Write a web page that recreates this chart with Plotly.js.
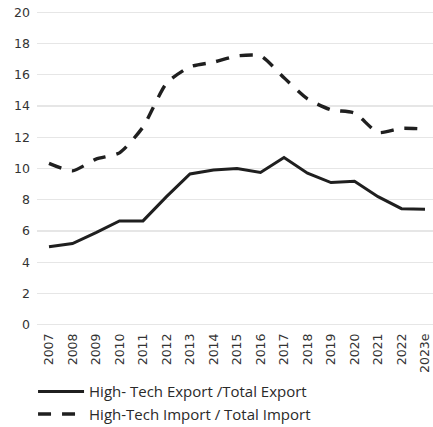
<!DOCTYPE html>
<html>
<head>
<meta charset="utf-8">
<script src="https://cdn.plot.ly/plotly-3.0.1.min.js"></script>
<style>html,body{margin:0;padding:0;background:#fff;}#chart{width:433px;height:427px;}</style>
</head>
<body>
<div id="chart"></div>
<script>
const years = ["2007","2008","2009","2010","2011","2012","2013","2014","2015","2016","2017","2018","2019","2020","2021","2022","2023e"];
const exportShare = [5.0, 5.2, 5.9, 6.65, 6.65, 8.2, 9.65, 9.9, 10.0, 9.75, 10.7, 9.7, 9.1, 9.18, 8.2, 7.43, 7.4];
const importShare = [10.33, 9.85, 10.6, 11.0, 12.65, 15.45, 16.5, 16.8, 17.2, 17.2, 15.8, 14.45, 13.75, 13.55, 12.3, 12.57, 12.52];
const yTicks = [0, 2, 4, 6, 8, 10, 12, 14, 16, 18, 20];
const seriesNames = ["High- Tech Export /Total Export", "High-Tech Import / Total Import"];

const traces = [
  {x: years, y: exportShare, type: 'scatter', mode: 'lines', name: seriesNames[0],
   line: {color: '#1f1f1f', width: 3}},
  {x: years, y: importShare, type: 'scatter', mode: 'lines', name: seriesNames[1],
   line: {color: '#1f1f1f', width: 3.4, dash: '13px,11px', shape: 'spline', smoothing: 0.6}}
];

const layout = {
  width: 433, height: 427,
  margin: {l: 37, r: 0, t: 9, b: 99, autoexpand: false},
  paper_bgcolor: '#fff', plot_bgcolor: '#fff',
  showlegend: true,
  legend: {x: -0.01, y: -0.148, xanchor: 'left', yanchor: 'top', orientation: 'v',
           font: {family: 'Open Sans, sans-serif', size: 15, color: '#2a2a2a'},
           bgcolor: 'rgba(0,0,0,0)', tracegroupgap: 0, itemwidth: 46},
  xaxis: {type: 'category', range: [-0.51, 16.34], tickangle: -90, showgrid: false,
          zeroline: false, showline: false, ticks: '', ticklen: 0, ticklabelstandoff: 2,
          tickfont: {family: 'DejaVu Sans, sans-serif', size: 12.5, color: '#333'}},
  yaxis: {range: [-0.2, 20.2], tickvals: yTicks, ticktext: yTicks.map(String),
          showgrid: true, gridcolor: '#e6e6e6', gridwidth: 1.2, zeroline: false,
          showline: false, ticks: '', ticklabelstandoff: 6,
          tickfont: {family: 'DejaVu Sans, sans-serif', size: 12.5, color: '#333'}},
  font: {family: 'DejaVu Sans, sans-serif'}
};

Plotly.newPlot('chart', traces, layout, {displayModeBar: false, staticPlot: true});
</script>
</body>
</html>
